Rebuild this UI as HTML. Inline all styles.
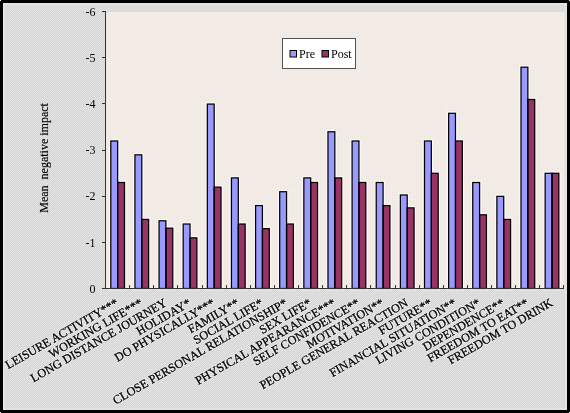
<!DOCTYPE html>
<html><head><meta charset="utf-8"><style>
html,body{margin:0;padding:0;background:#fff;}
body{width:570px;height:413px;overflow:hidden;position:relative;font-family:"Liberation Serif",serif;}
svg{position:absolute;left:0;top:0;}
text{font-family:"Liberation Serif",serif;fill:#000;}
.xl text{stroke:#000;stroke-width:0.3px;}
.xh text{fill:none;stroke:#fff;stroke-width:1.8px;stroke-opacity:0.55;stroke-linejoin:round;}
svg{will-change:transform;}
</style></head><body>
<svg width="570" height="413" viewBox="0 0 570 413">
<defs>
<pattern id="gp" width="2" height="2" patternUnits="userSpaceOnUse">
<rect width="2" height="2" fill="#d6d6d6"/><rect width="1" height="1" fill="#e2e2e2"/><rect x="1" y="1" width="1" height="1" fill="#e2e2e2"/>
</pattern>
<pattern id="cp" width="2" height="2" patternUnits="userSpaceOnUse">
<rect width="2" height="2" fill="#f0efe2"/><rect width="1" height="1" fill="#ede5df"/>
</pattern>
</defs>
<rect x="0" y="0" width="570" height="413" fill="#000"/>
<rect x="3" y="3" width="564" height="407" fill="#e3e3e3"/>
<g fill="#fff"><rect x="0" y="0" width="1" height="1"/><rect x="569" y="0" width="1" height="1"/><rect x="0" y="412" width="1" height="1"/><rect x="569" y="412" width="1" height="1"/></g>
<rect x="5" y="5" width="560" height="403" fill="url(#gp)"/>
<rect x="106" y="12" width="458.5" height="276" fill="url(#cp)"/>
<g fill="none" stroke="#fbfbf4" stroke-width="3.6"><rect x="110.8" y="140.98" width="6.85" height="147.52"/><rect x="117.65" y="182.5" width="6.85" height="106"/><rect x="134.93" y="154.82" width="6.85" height="133.68"/><rect x="141.78" y="219.41" width="6.85" height="69.09"/><rect x="159.06" y="220.79" width="6.85" height="67.71"/><rect x="165.91" y="228.17" width="6.85" height="60.33"/><rect x="183.19" y="224.02" width="6.85" height="64.48"/><rect x="190.04" y="237.86" width="6.85" height="50.64"/><rect x="207.32" y="104.08" width="6.85" height="184.42"/><rect x="214.17" y="187.11" width="6.85" height="101.39"/><rect x="231.45" y="177.89" width="6.85" height="110.61"/><rect x="238.3" y="224.02" width="6.85" height="64.48"/><rect x="255.58" y="205.57" width="6.85" height="82.93"/><rect x="262.43" y="228.63" width="6.85" height="59.87"/><rect x="279.71" y="191.73" width="6.85" height="96.77"/><rect x="286.56" y="224.02" width="6.85" height="64.48"/><rect x="303.84" y="177.89" width="6.85" height="110.61"/><rect x="310.69" y="182.5" width="6.85" height="106"/><rect x="327.97" y="131.76" width="6.85" height="156.74"/><rect x="334.82" y="177.89" width="6.85" height="110.61"/><rect x="352.1" y="140.98" width="6.85" height="147.52"/><rect x="358.95" y="182.5" width="6.85" height="106"/><rect x="376.23" y="182.5" width="6.85" height="106"/><rect x="383.08" y="205.57" width="6.85" height="82.93"/><rect x="400.36" y="194.96" width="6.85" height="93.54"/><rect x="407.21" y="207.87" width="6.85" height="80.63"/><rect x="424.49" y="140.98" width="6.85" height="147.52"/><rect x="431.34" y="173.28" width="6.85" height="115.22"/><rect x="448.62" y="113.31" width="6.85" height="175.19"/><rect x="455.47" y="140.98" width="6.85" height="147.52"/><rect x="472.75" y="182.5" width="6.85" height="106"/><rect x="479.6" y="214.79" width="6.85" height="73.71"/><rect x="496.88" y="196.34" width="6.85" height="92.16"/><rect x="503.73" y="219.41" width="6.85" height="69.09"/><rect x="521.01" y="67.18" width="6.85" height="221.32"/><rect x="527.86" y="99.47" width="6.85" height="189.03"/><rect x="545.14" y="173.28" width="6.85" height="115.22"/><rect x="551.99" y="173.28" width="6.85" height="115.22"/></g>
<g stroke="none"><rect x="110.8" y="140.98" width="6.85" height="147.52" fill="#9999FF"/><rect x="117.65" y="182.5" width="6.85" height="106" fill="#993366"/><rect x="134.93" y="154.82" width="6.85" height="133.68" fill="#9999FF"/><rect x="141.78" y="219.41" width="6.85" height="69.09" fill="#993366"/><rect x="159.06" y="220.79" width="6.85" height="67.71" fill="#9999FF"/><rect x="165.91" y="228.17" width="6.85" height="60.33" fill="#993366"/><rect x="183.19" y="224.02" width="6.85" height="64.48" fill="#9999FF"/><rect x="190.04" y="237.86" width="6.85" height="50.64" fill="#993366"/><rect x="207.32" y="104.08" width="6.85" height="184.42" fill="#9999FF"/><rect x="214.17" y="187.11" width="6.85" height="101.39" fill="#993366"/><rect x="231.45" y="177.89" width="6.85" height="110.61" fill="#9999FF"/><rect x="238.3" y="224.02" width="6.85" height="64.48" fill="#993366"/><rect x="255.58" y="205.57" width="6.85" height="82.93" fill="#9999FF"/><rect x="262.43" y="228.63" width="6.85" height="59.87" fill="#993366"/><rect x="279.71" y="191.73" width="6.85" height="96.77" fill="#9999FF"/><rect x="286.56" y="224.02" width="6.85" height="64.48" fill="#993366"/><rect x="303.84" y="177.89" width="6.85" height="110.61" fill="#9999FF"/><rect x="310.69" y="182.5" width="6.85" height="106" fill="#993366"/><rect x="327.97" y="131.76" width="6.85" height="156.74" fill="#9999FF"/><rect x="334.82" y="177.89" width="6.85" height="110.61" fill="#993366"/><rect x="352.1" y="140.98" width="6.85" height="147.52" fill="#9999FF"/><rect x="358.95" y="182.5" width="6.85" height="106" fill="#993366"/><rect x="376.23" y="182.5" width="6.85" height="106" fill="#9999FF"/><rect x="383.08" y="205.57" width="6.85" height="82.93" fill="#993366"/><rect x="400.36" y="194.96" width="6.85" height="93.54" fill="#9999FF"/><rect x="407.21" y="207.87" width="6.85" height="80.63" fill="#993366"/><rect x="424.49" y="140.98" width="6.85" height="147.52" fill="#9999FF"/><rect x="431.34" y="173.28" width="6.85" height="115.22" fill="#993366"/><rect x="448.62" y="113.31" width="6.85" height="175.19" fill="#9999FF"/><rect x="455.47" y="140.98" width="6.85" height="147.52" fill="#993366"/><rect x="472.75" y="182.5" width="6.85" height="106" fill="#9999FF"/><rect x="479.6" y="214.79" width="6.85" height="73.71" fill="#993366"/><rect x="496.88" y="196.34" width="6.85" height="92.16" fill="#9999FF"/><rect x="503.73" y="219.41" width="6.85" height="69.09" fill="#993366"/><rect x="521.01" y="67.18" width="6.85" height="221.32" fill="#9999FF"/><rect x="527.86" y="99.47" width="6.85" height="189.03" fill="#993366"/><rect x="545.14" y="173.28" width="6.85" height="115.22" fill="#9999FF"/><rect x="551.99" y="173.28" width="6.85" height="115.22" fill="#993366"/></g>
<g fill="none" stroke="#000" stroke-width="1.25"><rect x="110.8" y="140.98" width="6.85" height="147.52"/><rect x="117.65" y="182.5" width="6.85" height="106"/><rect x="134.93" y="154.82" width="6.85" height="133.68"/><rect x="141.78" y="219.41" width="6.85" height="69.09"/><rect x="159.06" y="220.79" width="6.85" height="67.71"/><rect x="165.91" y="228.17" width="6.85" height="60.33"/><rect x="183.19" y="224.02" width="6.85" height="64.48"/><rect x="190.04" y="237.86" width="6.85" height="50.64"/><rect x="207.32" y="104.08" width="6.85" height="184.42"/><rect x="214.17" y="187.11" width="6.85" height="101.39"/><rect x="231.45" y="177.89" width="6.85" height="110.61"/><rect x="238.3" y="224.02" width="6.85" height="64.48"/><rect x="255.58" y="205.57" width="6.85" height="82.93"/><rect x="262.43" y="228.63" width="6.85" height="59.87"/><rect x="279.71" y="191.73" width="6.85" height="96.77"/><rect x="286.56" y="224.02" width="6.85" height="64.48"/><rect x="303.84" y="177.89" width="6.85" height="110.61"/><rect x="310.69" y="182.5" width="6.85" height="106"/><rect x="327.97" y="131.76" width="6.85" height="156.74"/><rect x="334.82" y="177.89" width="6.85" height="110.61"/><rect x="352.1" y="140.98" width="6.85" height="147.52"/><rect x="358.95" y="182.5" width="6.85" height="106"/><rect x="376.23" y="182.5" width="6.85" height="106"/><rect x="383.08" y="205.57" width="6.85" height="82.93"/><rect x="400.36" y="194.96" width="6.85" height="93.54"/><rect x="407.21" y="207.87" width="6.85" height="80.63"/><rect x="424.49" y="140.98" width="6.85" height="147.52"/><rect x="431.34" y="173.28" width="6.85" height="115.22"/><rect x="448.62" y="113.31" width="6.85" height="175.19"/><rect x="455.47" y="140.98" width="6.85" height="147.52"/><rect x="472.75" y="182.5" width="6.85" height="106"/><rect x="479.6" y="214.79" width="6.85" height="73.71"/><rect x="496.88" y="196.34" width="6.85" height="92.16"/><rect x="503.73" y="219.41" width="6.85" height="69.09"/><rect x="521.01" y="67.18" width="6.85" height="221.32"/><rect x="527.86" y="99.47" width="6.85" height="189.03"/><rect x="545.14" y="173.28" width="6.85" height="115.22"/><rect x="551.99" y="173.28" width="6.85" height="115.22"/></g>
<g stroke="#333" stroke-width="1" shape-rendering="crispEdges"><line x1="105.5" y1="11.5" x2="105.5" y2="288.5" /><line x1="102" y1="288.5" x2="563.97" y2="288.5" /><line x1="102" y1="288.5" x2="105.5" y2="288.5" /><line x1="102" y1="242.37" x2="105.5" y2="242.37" /><line x1="102" y1="196.24" x2="105.5" y2="196.24" /><line x1="102" y1="150.11" x2="105.5" y2="150.11" /><line x1="102" y1="103.98" x2="105.5" y2="103.98" /><line x1="102" y1="57.85" x2="105.5" y2="57.85" /><line x1="102" y1="11.72" x2="105.5" y2="11.72" /><line x1="129.63" y1="285" x2="129.63" y2="288.5" /><line x1="153.76" y1="285" x2="153.76" y2="288.5" /><line x1="177.89" y1="285" x2="177.89" y2="288.5" /><line x1="202.02" y1="285" x2="202.02" y2="288.5" /><line x1="226.15" y1="285" x2="226.15" y2="288.5" /><line x1="250.28" y1="285" x2="250.28" y2="288.5" /><line x1="274.41" y1="285" x2="274.41" y2="288.5" /><line x1="298.54" y1="285" x2="298.54" y2="288.5" /><line x1="322.67" y1="285" x2="322.67" y2="288.5" /><line x1="346.8" y1="285" x2="346.8" y2="288.5" /><line x1="370.93" y1="285" x2="370.93" y2="288.5" /><line x1="395.06" y1="285" x2="395.06" y2="288.5" /><line x1="419.19" y1="285" x2="419.19" y2="288.5" /><line x1="443.32" y1="285" x2="443.32" y2="288.5" /><line x1="467.45" y1="285" x2="467.45" y2="288.5" /><line x1="491.58" y1="285" x2="491.58" y2="288.5" /><line x1="515.71" y1="285" x2="515.71" y2="288.5" /><line x1="539.84" y1="285" x2="539.84" y2="288.5" /><line x1="563.97" y1="285" x2="563.97" y2="288.5" /></g>
<g font-size="12"><text x="95.5" y="292.7" text-anchor="end">0</text><text x="95.5" y="246.57" text-anchor="end">-1</text><text x="95.5" y="200.44" text-anchor="end">-2</text><text x="95.5" y="154.31" text-anchor="end">-3</text><text x="95.5" y="108.18" text-anchor="end">-4</text><text x="95.5" y="62.05" text-anchor="end">-5</text><text x="95.5" y="15.92" text-anchor="end">-6</text></g>
<text font-size="12" stroke="#000" stroke-width="0.15" transform="translate(47.7 212.7) rotate(-90)" xml:space="preserve">Mean  negative impact</text>
<g class="xh" font-size="12.2"><text x="119.36" y="305.2" text-anchor="end" transform="rotate(-30 119.36 305.2)">LEISURE ACTIVITY***</text><text x="143.5" y="305.2" text-anchor="end" transform="rotate(-30 143.5 305.2)">WORKING LIFE***</text><text x="167.62" y="305.2" text-anchor="end" transform="rotate(-30 167.62 305.2)">LONG DISTANCE JOURNEY</text><text x="191.75" y="305.2" text-anchor="end" transform="rotate(-30 191.75 305.2)">HOLIDAY*</text><text x="215.88" y="305.2" text-anchor="end" transform="rotate(-30 215.88 305.2)">DO PHYSICALLY***</text><text x="240.02" y="305.2" text-anchor="end" transform="rotate(-30 240.02 305.2)">FAMILY**</text><text x="264.15" y="305.2" text-anchor="end" transform="rotate(-30 264.15 305.2)">SOCIAL LIFE*</text><text x="288.28" y="305.2" text-anchor="end" transform="rotate(-30 288.28 305.2)">CLOSE PERSONAL RELATIONSHIP*</text><text x="312.41" y="305.2" text-anchor="end" transform="rotate(-30 312.41 305.2)">SEX LIFE*</text><text x="336.54" y="305.2" text-anchor="end" transform="rotate(-30 336.54 305.2)">PHYSICAL APPEARANCE***</text><text x="360.67" y="305.2" text-anchor="end" transform="rotate(-30 360.67 305.2)">SELF CONFIDENCE**</text><text x="384.8" y="305.2" text-anchor="end" transform="rotate(-30 384.8 305.2)">MOTIVATION**</text><text x="408.93" y="305.2" text-anchor="end" transform="rotate(-30 408.93 305.2)">PEOPLE GENERAL REACTION</text><text x="433.06" y="305.2" text-anchor="end" transform="rotate(-30 433.06 305.2)">FUTURE**</text><text x="457.19" y="305.2" text-anchor="end" transform="rotate(-30 457.19 305.2)">FINANCIAL SITUATION**</text><text x="481.31" y="305.2" text-anchor="end" transform="rotate(-30 481.31 305.2)">LIVING CONDITION*</text><text x="505.44" y="305.2" text-anchor="end" transform="rotate(-30 505.44 305.2)">DEPENDENCE**</text><text x="529.57" y="305.2" text-anchor="end" transform="rotate(-30 529.57 305.2)">FREEDOM TO EAT**</text><text x="553.7" y="305.2" text-anchor="end" transform="rotate(-30 553.7 305.2)">FREEDOM TO DRINK</text></g>
<g class="xl" font-size="12.2"><text x="119.36" y="305.2" text-anchor="end" transform="rotate(-30 119.36 305.2)">LEISURE ACTIVITY***</text><text x="143.5" y="305.2" text-anchor="end" transform="rotate(-30 143.5 305.2)">WORKING LIFE***</text><text x="167.62" y="305.2" text-anchor="end" transform="rotate(-30 167.62 305.2)">LONG DISTANCE JOURNEY</text><text x="191.75" y="305.2" text-anchor="end" transform="rotate(-30 191.75 305.2)">HOLIDAY*</text><text x="215.88" y="305.2" text-anchor="end" transform="rotate(-30 215.88 305.2)">DO PHYSICALLY***</text><text x="240.02" y="305.2" text-anchor="end" transform="rotate(-30 240.02 305.2)">FAMILY**</text><text x="264.15" y="305.2" text-anchor="end" transform="rotate(-30 264.15 305.2)">SOCIAL LIFE*</text><text x="288.28" y="305.2" text-anchor="end" transform="rotate(-30 288.28 305.2)">CLOSE PERSONAL RELATIONSHIP*</text><text x="312.41" y="305.2" text-anchor="end" transform="rotate(-30 312.41 305.2)">SEX LIFE*</text><text x="336.54" y="305.2" text-anchor="end" transform="rotate(-30 336.54 305.2)">PHYSICAL APPEARANCE***</text><text x="360.67" y="305.2" text-anchor="end" transform="rotate(-30 360.67 305.2)">SELF CONFIDENCE**</text><text x="384.8" y="305.2" text-anchor="end" transform="rotate(-30 384.8 305.2)">MOTIVATION**</text><text x="408.93" y="305.2" text-anchor="end" transform="rotate(-30 408.93 305.2)">PEOPLE GENERAL REACTION</text><text x="433.06" y="305.2" text-anchor="end" transform="rotate(-30 433.06 305.2)">FUTURE**</text><text x="457.19" y="305.2" text-anchor="end" transform="rotate(-30 457.19 305.2)">FINANCIAL SITUATION**</text><text x="481.31" y="305.2" text-anchor="end" transform="rotate(-30 481.31 305.2)">LIVING CONDITION*</text><text x="505.44" y="305.2" text-anchor="end" transform="rotate(-30 505.44 305.2)">DEPENDENCE**</text><text x="529.57" y="305.2" text-anchor="end" transform="rotate(-30 529.57 305.2)">FREEDOM TO EAT**</text><text x="553.7" y="305.2" text-anchor="end" transform="rotate(-30 553.7 305.2)">FREEDOM TO DRINK</text></g>
<rect x="282.5" y="38.5" width="73" height="30" fill="#fff" stroke="#505050" stroke-width="1"/>
<rect x="290" y="50.5" width="6.5" height="6.5" fill="#9999FF" stroke="#000" stroke-width="1"/>
<text x="299" y="57.5" font-size="12">Pre</text>
<rect x="322" y="50.5" width="6.5" height="6.5" fill="#993366" stroke="#000" stroke-width="1"/>
<text x="331" y="57.5" font-size="12">Post</text>
</svg>
</body></html>
